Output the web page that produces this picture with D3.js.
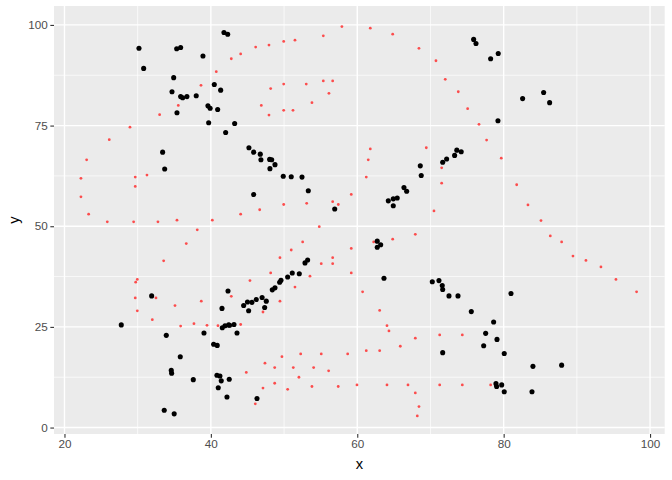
<!DOCTYPE html>
<html><head><meta charset="utf-8">
<script src="https://cdn.jsdelivr.net/npm/d3@7"></script>
<style>body{margin:0;background:#fff}svg{display:block}text{font-family:"Liberation Sans",Arial,sans-serif}</style>
</head><body><div id="chart"></div>
<script>
const xTicks = [20, 40, 60, 80, 100];
const yTicks = [0, 25, 50, 75, 100];
const xMinor = [30, 50, 70, 90];
const yMinor = [12.5, 37.5, 62.5, 87.5];

const redX = [35.55,33.0,28.95,26.12,57.9,55.36,51.49,49.95,47.94,46.12,44.07,42.79,40.74,38.65,56.64,55.36,53.03,49.95,48.17,56.13,53.81,51.22,49.95,47.94,46.89,61.78,64.84,68.43,70.75,72.02,73.80,75.08,76.63,77.67,61.78,69.43,23.03,22.25,22.25,23.30,25.85,29.45,32.77,35.37,29.67,31.27,29.67,36.64,33.55,29.95,29.73,29.67,32.5,59.18,56.64,57.41,53.09,49.95,46.67,44.07,40.20,38.14,54.81,52.54,50.98,59.18,49.44,56.64,55.08,56.64,59.18,48.17,53.54,45.34,51.49,42.79,49.44,38.69,61.5,61.23,71.53,71.53,79.67,70.48,67.93,64.84,62.24,60.73,81.78,83.32,85.1,86.37,87.92,89.47,91.24,93.29,95.34,98.16,29.95,32.0,35.1,35.87,37.69,47.12,39.47,40.97,44.07,49.71,52.27,55.08,58.69,47.39,44.84,48.72,51.26,54.04,56.09,52.03,47.12,48.72,50.49,53.81,57.4,46.07,63.06,64.06,64.33,67.93,65.88,61.23,63.06,71.26,74.35,59.96,64.06,66.93,71.26,74.35,78.22,67.93,68.43,68.2];
const redY = [80.0,77.7,74.6,71.5,99.6,97.3,96.2,95.9,95.0,94.5,92.8,91.6,88.4,85.0,86.1,86.1,85.3,85.3,84.2,83.0,80.7,78.8,78.8,77.6,80.0,99.2,97.7,94.2,91.1,86.5,83.4,79.2,75.3,71.4,69.2,69.5,66.5,61.9,57.3,53.0,51.1,51.1,51.1,51.5,62.2,62.7,59.9,45.7,41.4,36.8,36.1,32.2,32.2,57.9,56.1,55.4,55.7,55.4,54.1,53.0,51.5,49.1,49.9,46.1,44.1,44.5,42.2,42.2,40.7,40.7,38.4,38.4,37.6,36.5,34.9,32.6,31.4,31.4,66.5,62.2,64.5,60.7,66.9,53.8,48.0,46.8,46.1,33.7,60.3,55.3,51.4,47.6,46.1,42.6,41.5,39.9,36.8,33.7,29.0,26.8,30.3,25.2,25.8,28.7,25.4,25.3,25.6,17.6,18.3,18.3,18.3,16.0,13.7,14.9,14.9,14.9,14.1,12.5,9.8,11.0,9.5,10.2,10.2,5.9,29.1,25.3,24.0,22.2,20.2,19.1,19.1,23.0,23.0,10.6,10.6,10.6,10.6,10.6,10.6,8.6,5.2,2.9];

const blackX = [30.18,30.82,35.33,35.87,34.92,34.69,35.87,36.15,36.73,38.0,35.37,33.41,41.79,42.30,38.92,40.47,41.34,39.6,39.9,40.93,39.70,43.25,42.02,45.2,45.85,46.75,75.90,76.22,79.26,78.22,79.22,73.6,74.2,73.3,82.59,85.46,86.28,33.69,31.91,46.84,48.03,48.31,48.76,48.07,49.89,50.98,52.45,53.31,45.85,56.92,53.22,52.86,51.12,52.08,50.49,49.58,49.40,48.76,48.39,42.34,71.67,72.21,68.61,68.74,66.38,66.75,64.24,64.92,65.46,64.92,62.73,63.20,62.73,63.65,70.25,71.16,71.61,71.67,72.53,73.76,81.0,27.76,33.91,35.82,34.59,34.64,37.6,33.63,34.99,41.52,39.06,40.38,40.87,44.48,45.16,45.61,46.2,47.57,47.35,41.56,41.93,42.43,43.16,43.57,42.56,40.83,41.24,41.42,42.51,41.01,42.2,46.3,75.58,78.63,77.54,79.09,77.27,71.67,80.08,78.95,79.04,79.73,80.08,84.0,87.92,83.87,47.0,45.0];
const blackY = [94.2,89.2,94.1,94.4,86.9,83.4,82.2,81.9,82.2,82.4,78.2,68.4,98.1,97.7,92.3,85.2,83.8,79.9,79.3,79.0,75.7,75.5,73.3,69.5,68.4,67.9,96.4,95.4,92.9,91.6,76.2,68.9,68.5,67.6,81.7,83.2,80.7,64.2,32.7,66.5,66.6,66.5,65.3,64.3,62.4,62.3,62.2,58.8,57.9,54.3,41.6,40.9,38.4,38.2,37.4,36.6,36.1,34.7,34.2,33.9,65.9,66.7,65.0,62.6,59.6,58.7,56.3,56.8,57.0,55.1,46.3,45.4,44.8,37.1,36.2,36.5,35.3,34.3,32.7,32.7,33.3,25.5,22.9,17.6,14.2,13.5,11.9,4.3,3.4,29.6,23.5,20.7,20.4,30.3,29.0,31.1,31.8,31.4,29.8,24.8,25.3,25.5,25.6,23.5,25.4,13.0,12.8,11.6,12.0,9.9,7.6,7.2,28.8,26.2,23.4,21.9,20.3,18.6,18.4,10.9,10.2,10.6,8.9,15.2,15.5,8.9,32.3,31.2];

const W = 672, H = 480;
const P = {left: 54, right: 664.7, top: 6, bottom: 434};

const svg = d3.select("#chart").append("svg").attr("width", W).attr("height", H);
const x = d3.scaleLinear().domain([18.57, 102.0]).range([P.left, P.right]);
const y = d3.scaleLinear().domain([-1.6, 104.7]).range([P.bottom, P.top]);

svg.append("rect").attr("x", P.left).attr("y", P.top)
  .attr("width", P.right - P.left).attr("height", P.bottom - P.top).attr("fill", "#EBEBEB");

const g = svg.append("g");
g.selectAll(".xm").data(xMinor).join("line")
  .attr("x1", d => x(d)).attr("x2", d => x(d)).attr("y1", P.top).attr("y2", P.bottom)
  .attr("stroke", "#fff").attr("stroke-width", 0.7);
g.selectAll(".ym").data(yMinor).join("line")
  .attr("y1", d => y(d)).attr("y2", d => y(d)).attr("x1", P.left).attr("x2", P.right)
  .attr("stroke", "#fff").attr("stroke-width", 0.7);
g.selectAll(".xM").data(xTicks).join("line")
  .attr("x1", d => x(d)).attr("x2", d => x(d)).attr("y1", P.top).attr("y2", P.bottom)
  .attr("stroke", "#fff").attr("stroke-width", 1.4);
g.selectAll(".yM").data(yTicks).join("line")
  .attr("y1", d => y(d)).attr("y2", d => y(d)).attr("x1", P.left).attr("x2", P.right)
  .attr("stroke", "#fff").attr("stroke-width", 1.4);

const red = redX.map((v, i) => [v, redY[i]]);
const black = blackX.map((v, i) => [v, blackY[i]]);

svg.append("g").selectAll("circle").data(red).join("circle")
  .attr("cx", d => x(d[0])).attr("cy", d => y(d[1])).attr("r", 1.4)
  .attr("fill", "#ff3030").attr("fill-opacity", 0.85);
svg.append("g").selectAll("circle").data(black).join("circle")
  .attr("cx", d => x(d[0])).attr("cy", d => y(d[1])).attr("r", 2.55)
  .attr("fill", "#000");

const xa = svg.append("g").attr("transform", `translate(0,${P.bottom})`)
  .call(d3.axisBottom(x).tickValues(xTicks).tickSize(3.67).tickPadding(2.5));
const ya = svg.append("g").attr("transform", `translate(${P.left},0)`)
  .call(d3.axisLeft(y).tickValues(yTicks).tickSize(3.67).tickPadding(2.5));
[xa, ya].forEach(a => {
  a.select(".domain").remove();
  a.selectAll(".tick line").attr("stroke", "#333").attr("stroke-width", 1.1);
  a.selectAll(".tick text").attr("fill", "#4D4D4D").style("font-size", "11.7px");
});

svg.append("text").attr("x", (P.left + P.right) / 2).attr("y", 469)
  .attr("text-anchor", "middle").attr("fill", "#000").style("font-size", "14.7px").text("x");
svg.append("text").attr("transform", `translate(19,${(P.top + P.bottom) / 2}) rotate(-90)`)
  .attr("text-anchor", "middle").attr("fill", "#000").style("font-size", "14.7px").text("y");
</script></body></html>
